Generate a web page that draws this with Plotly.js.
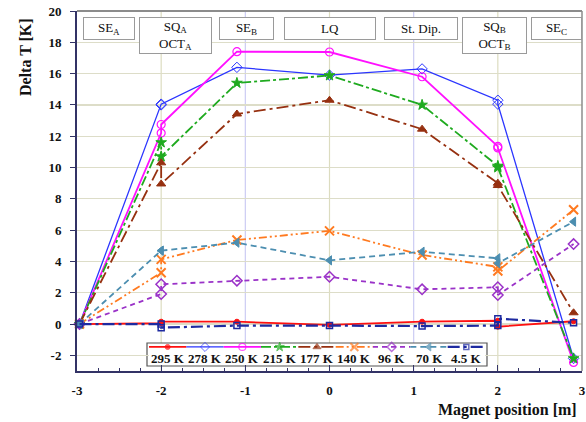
<!DOCTYPE html>
<html>
<head>
<meta charset="utf-8">
<script src="https://cdn.plot.ly/plotly-3.0.1.min.js"></script>
<style>html,body{margin:0;padding:0;background:#fff}#chart{width:586px;height:422px}</style>
</head>
<body>
<div id="chart"></div>
<script>
// Magnet positions (two readings at -2 and +2)
const positions = [-2.97, -2, -2, -1.1, 0, 1.1, 2, 2, 2.9];

const seriesNames = ["295 K", "278 K", "250 K", "215 K", "177 K", "140 K", "96 K", "70 K", "4.5 K"];

const t295 = [0, 0.05, 0.15, 0.15, -0.05, 0.15, 0.21, -0.17, 0.18];
const t278 = [0, 14.0, 14.05, 16.4, 15.9, 16.3, 14.3, 14.05, -2.2];
const t250 = [0, 12.2, 12.75, 17.4, 17.38, 15.8, 11.35, 11.25, -2.45];
const t215 = [0, 11.6, 10.7, 15.4, 15.88, 14.0, 10.1, 10.0, -2.2];
const t177 = [0, 10.3, 8.95, 13.42, 14.3, 12.45, 9.0, 8.85, 0.72];
const t140 = [0, 3.28, 4.13, 5.37, 5.95, 4.41, 3.65, 3.39, 7.3];
const t96  = [0, 1.92, 2.54, 2.77, 3.02, 2.22, 2.35, 1.85, 5.11];
const t70  = [0, 4.69, 4.69, 5.2, 4.07, 4.62, 4.2, 3.88, 6.54];
const t4_5 = [0, 0.0, -0.23, -0.1, -0.1, -0.13, -0.1, 0.34, 0.08];

const seriesValues = [t295, t278, t250, t215, t177, t140, t96, t70, t4_5];

const yTicks = [-2, 0, 2, 4, 6, 8, 10, 12, 14, 16, 18, 20];
const xTicks = [-3, -2, -1, 0, 1, 2, 3];

const regionLabels = ["SE<sub>A</sub>", "SQ<sub>A</sub><br>OCT<sub>A</sub>", "SE<sub>B</sub>", "LQ", "St. Dip.", "SQ<sub>B</sub><br>OCT<sub>B</sub>", "SE<sub>C</sub>"];

// styles
const styles = [
  {color:"#FF1010", width:1.8, dash:"solid",               symbol:"circle",        size:5,  mline:1},
  {color:"#2B35FF", width:1.3, dash:"solid",               symbol:"diamond-open",  size:8,  mline:1},
  {color:"#FF10FF", width:1.8, dash:"solid",               symbol:"circle-open",   size:8,  mline:1.2},
  {color:"#1FAA1F", width:1.8, dash:"10px,3px,3px,3px",    symbol:"star",          size:8,  mline:1},
  {color:"#963010", width:1.8, dash:"12px,4px,3px,4px",    symbol:"triangle-up",   size:8,  mline:1},
  {color:"#FF7A20", width:1.8, dash:"8px,3px,2px,3px,2px,3px", symbol:"x-thin-open", size:9, mline:2},
  {color:"#9A32C8", width:1.8, dash:"5px,4px",             symbol:"diamond-open",  size:8,  mline:1.5},
  {color:"#4C8EB0", width:1.8, dash:"6px,4px",             symbol:"triangle-left", size:8,  mline:1},
  {color:"#1E2AA0", width:2.2, dash:"12px,4px,3px,4px",    symbol:"square-open",   size:6,  mline:1.5}
];

const serif = "Liberation Serif, Times New Roman, serif";
const traces = [];
seriesValues.forEach((vals, i) => {
  const s = styles[i];
  traces.push({
    type: "scatter", mode: "lines+markers", name: seriesNames[i],
    x: positions, y: vals, cliponaxis: false, showlegend: false,
    line: {color: s.color, width: s.width, dash: s.dash},
    marker: {symbol: s.symbol, size: s.size, color: s.color, line: {color: s.color, width: s.mline}},
    xaxis: "x", yaxis: "y"
  });
});
// custom legend samples (symbol above label)
seriesNames.forEach((n, i) => {
  const s = styles[i];
  traces.push({
    type: "scatter", mode: "lines+markers", showlegend: false, hoverinfo: "skip",
    x: [i - 0.5, i, i + 0.5], y: [0.86, 0.86, 0.86],
    line: {color: s.color, width: s.width, dash: s.dash},
    marker: {symbol: s.symbol, size: [0, Math.max(5, s.size - 1), 0], color: s.color, line: {color: s.color, width: s.mline}},
    xaxis: "x2", yaxis: "y2", cliponaxis: false
  });
});

const L = 77, R = 582, T = 11, B = 371;
const W = R - L, H = B - T;
const px = v => (v - L) / W;
const py = v => (B - v) / H;

const boxes = [
  {l: 83,  w: 52, h: 23},
  {l: 139, w: 73, h: 37},
  {l: 219, w: 55, h: 23},
  {l: 284, w: 92, h: 23},
  {l: 384, w: 74, h: 23},
  {l: 462, w: 65, h: 37},
  {l: 531, w: 51, h: 23}
];

const annotations = [];
regionLabels.forEach((t, i) => {
  const b = boxes[i];
  annotations.push({
    text: t, xref: "paper", yref: "paper", x: px(b.l), y: py(17),
    xanchor: "left", yanchor: "top", showarrow: false,
    width: b.w - 2, height: b.h - 2, borderpad: 0,
    bordercolor: "#9a9a9a", borderwidth: 1, bgcolor: "#ffffff",
    font: {family: serif, size: 13, color: "#111"}, align: "center", valign: "middle"
  });
});
seriesNames.forEach((n, i) => {
  annotations.push({
    text: n, xref: "x2", yref: "y2", x: i, y: 0.3, showarrow: false,
    xanchor: "center", yanchor: "middle",
    font: {family: serif, size: 13, color: "#111", weight: "bold"}
  });
});
annotations.push({
  text: "Delta T [K]", xref: "paper", yref: "paper", x: px(25), y: py(57),
  xanchor: "center", yanchor: "middle", textangle: -90, showarrow: false,
  font: {family: serif, size: 16, color: "#111", weight: "bold"}
});
annotations.push({
  text: "Magnet position [m]", xref: "paper", yref: "paper", x: px(579), y: py(410),
  xanchor: "right", yanchor: "middle", showarrow: false,
  font: {family: serif, size: 16, color: "#111", weight: "bold"}
});

const shapes = [];
// vertical grid lines
[[-2, "#DCDCC0"], [-1, "#CCCCF4"], [0, "#DCDCC0"], [1, "#CCCCF4"], [2, "#DCDCC0"]].forEach(g => {
  shapes.push({type: "line", xref: "x", yref: "paper", x0: g[0], x1: g[0], y0: 0, y1: 1,
    line: {color: g[1], width: 1.2}, layer: "below"});
});
// top & right frame
shapes.push({type: "line", xref: "paper", yref: "paper", x0: 0, x1: 1, y0: 1, y1: 1, line: {color: "#8c8c8c", width: 2}, layer: "above"});
shapes.push({type: "line", xref: "paper", yref: "paper", x0: 1, x1: 1, y0: 0, y1: 1, line: {color: "#8c8c8c", width: 1.5}, layer: "above"});
// legend box
shapes.push({type: "rect", xref: "paper", yref: "paper", x0: px(147), x1: px(487), y0: py(366), y1: py(343),
  line: {color: "#555", width: 1.2}, fillcolor: "#ffffff", layer: "between"});

const layout = {
  width: 586, height: 422,
  margin: {l: L, r: 586 - R, t: T, b: 422 - B, pad: 0},
  paper_bgcolor: "#ffffff", plot_bgcolor: "#ffffff",
  showlegend: false,
  font: {family: serif, color: "#111"},
  xaxis: {
    range: [-3, 3], tickvals: xTicks, ticktext: xTicks.map(String),
    ticks: "inside", ticklen: 6, tickcolor: "#333366", tickwidth: 1,
    minor: {dtick: 0.25, ticks: "inside", ticklen: 3, tickcolor: "#333366", showgrid: false},
    showgrid: false, zeroline: false,
    showline: true, linecolor: "#333366", linewidth: 2,
    ticklabelstandoff: 6,
    tickfont: {family: serif, size: 13, color: "#111", weight: "bold"}
  },
  yaxis: {
    range: [-3, 20], tickvals: yTicks, ticktext: yTicks.map(String),
    ticks: "outside", ticklen: 5, tickcolor: "#333366",
    showgrid: true, gridcolor: "#DDDDC8", gridwidth: 1.2, zeroline: false,
    showline: true, linecolor: "#333366", linewidth: 2,
    ticklabelstandoff: 6,
    tickfont: {family: serif, size: 13, color: "#111", weight: "bold"}
  },
  xaxis2: {domain: [px(149), px(485)], range: [-0.5, 8.5], anchor: "y2", visible: false, fixedrange: true},
  yaxis2: {domain: [py(365), py(344)], range: [0, 1], anchor: "x2", visible: false, fixedrange: true},
  annotations: annotations,
  shapes: shapes
};

Plotly.newPlot("chart", traces, layout, {displayModeBar: false, staticPlot: true});
</script>
</body>
</html>
